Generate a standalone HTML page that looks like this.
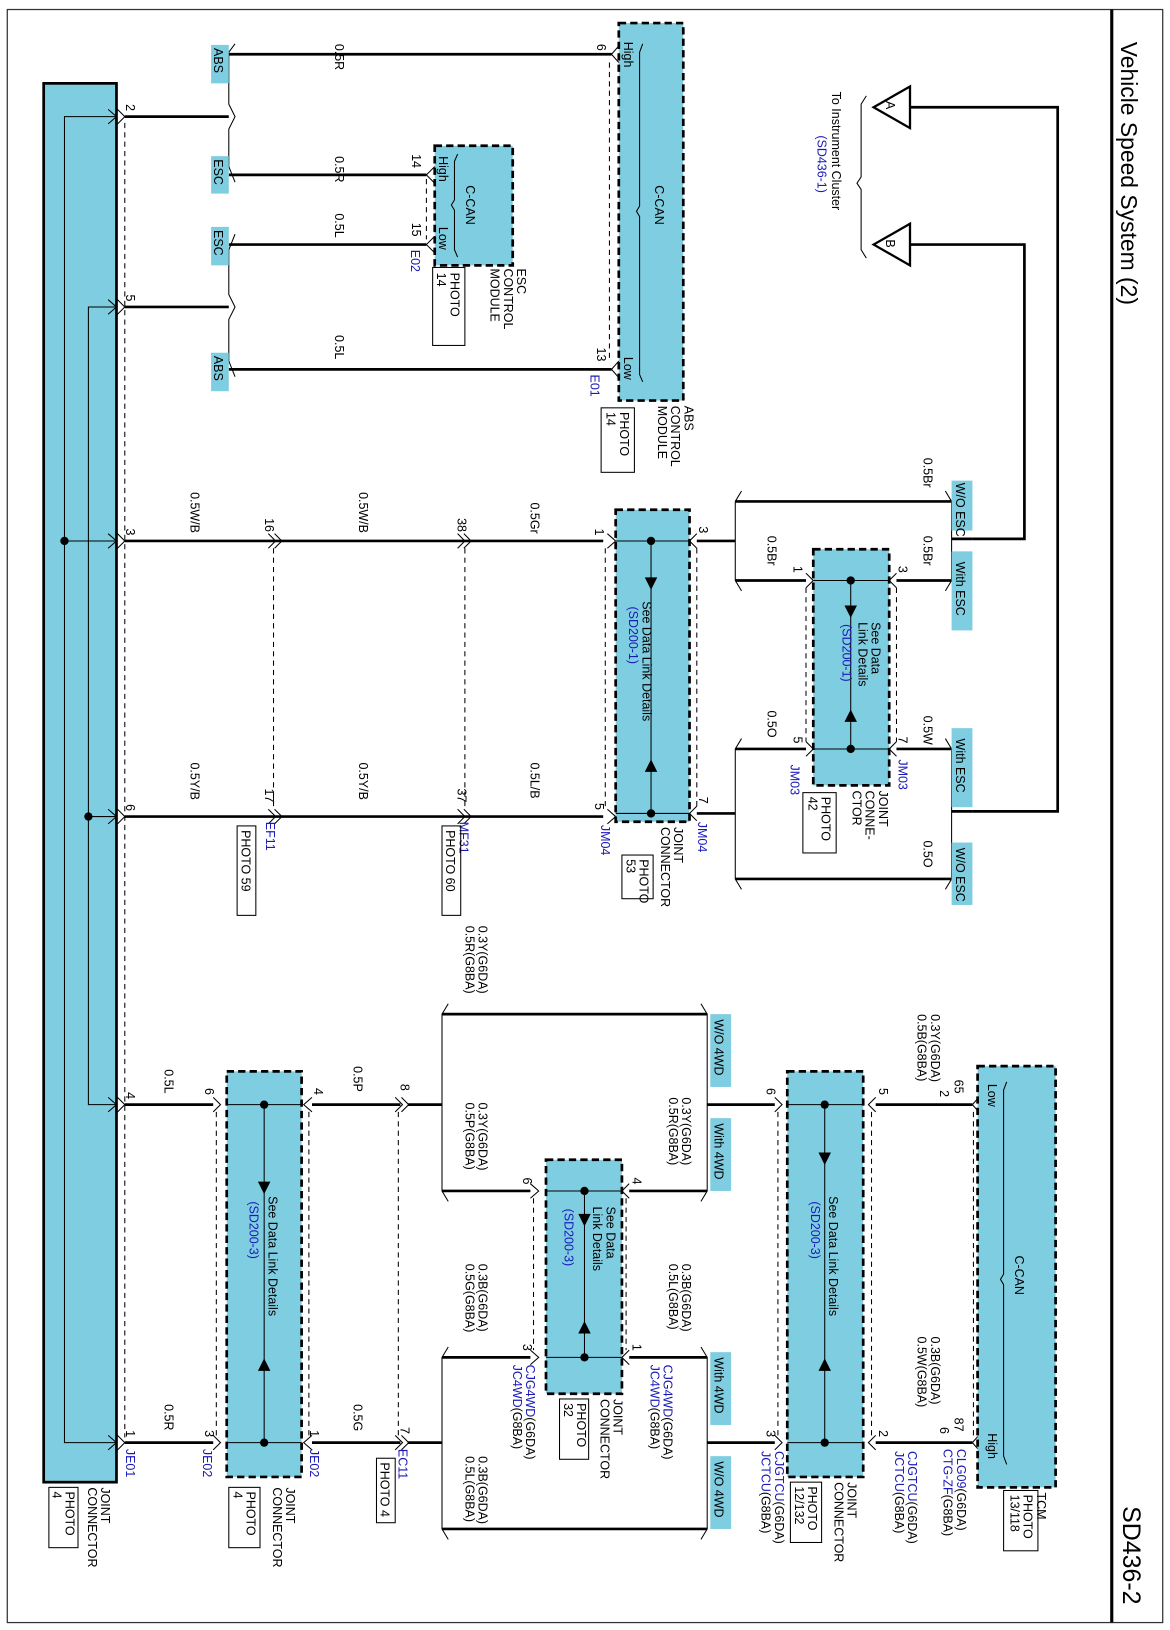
<!DOCTYPE html>
<html><head><meta charset="utf-8"><style>
html,body{margin:0;padding:0;background:#fff;}
svg{display:block;}
text{font-family:"Liberation Sans",sans-serif;font-size:12px;fill:#000;}
.b{fill:#1a1ab8;}
.w{stroke:#000;stroke-width:2.6;fill:none;}
.t{stroke:#000;stroke-width:1;fill:none;}
.d{stroke:#000;stroke-width:1;stroke-dasharray:5,4;fill:none;}
.box{fill:#7fcde0;stroke:#000;stroke-width:2.6;stroke-dasharray:7,4;}
.lb{fill:#7fcde0;}
</style></head><body>
<svg width="1170" height="1630" viewBox="0 0 1125 1567" xmlns="http://www.w3.org/2000/svg">
<rect x="7" y="9" width="1111" height="1551" fill="none" stroke="#333" stroke-width="1.2"/>
<line x1="1069" y1="9" x2="1069" y2="1560" stroke="#000" stroke-width="3"/>
<text transform="translate(1078,40) rotate(90)" style="font-size:22px">Vehicle Speed System (2)</text>
<text transform="translate(1080,1448) rotate(90)" style="font-size:24px">SD436-2</text>

<!-- Left connector -->
<rect x="42" y="80" width="70" height="1345" fill="#7fcde0" stroke="#000" stroke-width="2.6"/>
<polyline class="t" points="112,112 62,112 62,1387 112,1387"/>
<line class="t" x1="62" y1="520" x2="112" y2="520"/>
<polyline class="t" points="112,295 85,295 85,1062 112,1062"/>
<line class="t" x1="85" y1="785" x2="112" y2="785"/>
<circle cx="62" cy="520" r="4"/><circle cx="85" cy="785" r="4"/>
<g class="t">
<path d="M104,105 L112,112 L104,119 M112,104 L120,112 L112,120"/>
<path d="M104,288 L112,295 L104,302 M112,287 L120,295 L112,303"/>
<path d="M104,513 L112,520 L104,527 M112,512 L120,520 L112,528"/>
<path d="M104,778 L112,785 L104,792 M112,777 L120,785 L112,793"/>
<path d="M104,1055 L112,1062 L104,1069 M112,1054 L120,1062 L112,1070"/>
<path d="M104,1380 L112,1387 L104,1394 M112,1379 L120,1387 L112,1395"/>
</g>
<line class="d" x1="120" y1="118" x2="120" y2="1382"/>
<text transform="translate(121,100) rotate(90)">2</text>
<text transform="translate(121,283) rotate(90)">5</text>
<text transform="translate(121,508) rotate(90)">3</text>
<text transform="translate(121,773) rotate(90)">6</text>
<text transform="translate(121,1050) rotate(90)">4</text>
<text transform="translate(121,1375) rotate(90)">1</text>
<text class="b" transform="translate(121,1393) rotate(90)">JE01</text>
<text transform="translate(97,1430) rotate(90)"><tspan x="0">JOINT</tspan><tspan x="0" dy="1.05em">CONNECTOR</tspan></text>
<rect x="47" y="1430" width="28" height="58" fill="none" stroke="#000"/>
<text transform="translate(63,1434) rotate(90)"><tspan x="0">PHOTO</tspan><tspan x="0" dy="1.05em">4</tspan></text>

<!-- Top section wires -->
<g class="w">
<line x1="120" y1="112" x2="220" y2="112"/><line x1="120" y1="295" x2="220" y2="295"/>
<line x1="220" y1="52" x2="588" y2="52"/><line x1="220" y1="168" x2="410" y2="168"/>
<line x1="220" y1="235" x2="410" y2="235"/><line x1="220" y1="355" x2="588" y2="355"/>
</g>
<path class="t" d="M226,42 L220,50 L220,100 L226,112 L220,124 L220,160 L226,175 M226,225 L220,240 L220,283 L226,295 L220,307 L220,347 L226,362"/>
<rect class="lb" x="203" y="43" width="17" height="37"/><text transform="translate(206,46) rotate(90)">ABS</text>
<rect class="lb" x="203" y="150" width="17" height="36"/><text transform="translate(206,153) rotate(90)">ESC</text>
<rect class="lb" x="203" y="218" width="17" height="37"/><text transform="translate(206,221) rotate(90)">ESC</text>
<rect class="lb" x="203" y="339" width="17" height="37"/><text transform="translate(206,342) rotate(90)">ABS</text>
<text transform="translate(322,42) rotate(90)">0.5R</text>
<text transform="translate(322,150) rotate(90)">0.5R</text>
<text transform="translate(322,205) rotate(90)">0.5L</text>
<text transform="translate(322,322) rotate(90)">0.5L</text>

<!-- ESC module -->
<rect class="box" x="418" y="140" width="75" height="115"/>
<path class="t" d="M410,168 L418,160 M410,168 L418,176 M410,235 L418,227 M410,235 L418,243"/>
<line class="d" x1="410" y1="172" x2="410" y2="230"/>
<text transform="translate(396,148) rotate(90)">14</text>
<text transform="translate(396,214) rotate(90)">15</text>
<text class="b" transform="translate(395,240) rotate(90)">E02</text>
<text transform="translate(422,150) rotate(90)">High</text>
<text transform="translate(422,218) rotate(90)">Low</text>
<path class="t" d="M440,148 L437,155 L437,192 L434,197 L437,202 L437,240 L440,247"/>
<text transform="translate(448,178) rotate(90)">C-CAN</text>
<text transform="translate(497,258) rotate(90)"><tspan x="0">ESC</tspan><tspan x="0" dy="1.05em">CONTROL</tspan><tspan x="0" dy="1.05em">MODULE</tspan></text>
<rect x="416" y="257" width="31" height="75" fill="none" stroke="#000"/>
<text transform="translate(433,262) rotate(90)"><tspan x="0">PHOTO</tspan><tspan x="0" dy="1.05em">14</tspan></text>

<!-- ABS module -->
<rect class="box" x="595" y="22" width="62" height="363"/>
<path class="t" d="M588,52 L595,44 M588,52 L595,60 M588,355 L595,347 M588,355 L595,363"/>
<line class="d" x1="586" y1="60" x2="586" y2="348"/>
<text transform="translate(574,42) rotate(90)">6</text>
<text transform="translate(574,334) rotate(90)">13</text>
<text class="b" transform="translate(568,360) rotate(90)">E01</text>
<text transform="translate(600,40) rotate(90)">High</text>
<text transform="translate(600,343) rotate(90)">Low</text>
<path class="t" d="M618,42 L615,50 L615,198 L612,203 L615,208 L615,360 L618,367"/>
<text transform="translate(630,178) rotate(90)">C-CAN</text>
<text transform="translate(658,390) rotate(90)"><tspan x="0">ABS</tspan><tspan x="0" dy="1.05em">CONTROL</tspan><tspan x="0" dy="1.05em">MODULE</tspan></text>
<rect x="578" y="392" width="32" height="62" fill="none" stroke="#000"/>
<text transform="translate(596,396) rotate(90)"><tspan x="0">PHOTO</tspan><tspan x="0" dy="1.05em">14</tspan></text>

<!-- Triangles A/B -->
<path d="M840,103 L875,83 L875,123 Z" fill="#fff" stroke="#000" stroke-width="2.2"/>
<text transform="translate(852,97) rotate(90)">A</text>
<path d="M840,235 L875,215 L875,255 Z" fill="#fff" stroke="#000" stroke-width="2.2"/>
<text transform="translate(852,230) rotate(90)">B</text>
<path class="t" d="M833,92 L828,100 L828,170 L824,176 L828,182 L828,240 L833,248"/>
<text transform="translate(800,88) rotate(90)">To Instrument Cluster</text>
<text class="b" transform="translate(786,130) rotate(90)">(SD436-1)</text>
<polyline class="w" points="875,103 1017,103 1017,780 935,780"/>
<polyline class="w" points="875,235 985,235 985,518 935,518"/>

<!-- Mid section -->
<g class="w">
<line x1="120" y1="520" x2="580" y2="520"/><line x1="120" y1="785" x2="580" y2="785"/>
<line x1="670" y1="520" x2="707" y2="520"/><line x1="670" y1="782" x2="707" y2="782"/>
<line x1="707" y1="482" x2="915" y2="482"/><line x1="707" y1="558" x2="775" y2="558"/>
<line x1="862" y1="558" x2="915" y2="558"/>
<line x1="707" y1="720" x2="775" y2="720"/><line x1="862" y1="720" x2="915" y2="720"/>
<line x1="707" y1="845" x2="915" y2="845"/>
<line x1="915" y1="518" x2="935" y2="518"/><line x1="915" y1="780" x2="935" y2="780"/>
</g>
<path class="t" d="M713,472 L707,482 L707,558 L713,568 M713,710 L707,720 L707,845 L713,855 M909,472 L915,482 L915,558 L909,568 M909,710 L915,720 L915,845 L909,855"/>
<g class="t">
<path d="M258,513 L265,520 L258,527 M264,513 L271,520 L264,527"/>
<path d="M440,513 L447,520 L440,527 M446,513 L453,520 L446,527"/>
<path d="M258,778 L265,785 L258,792 M264,778 L271,785 L264,792"/>
<path d="M440,778 L447,785 L440,792 M446,778 L453,785 L446,792"/>
<path d="M584,513 L592,520 L584,527 M584,778 L592,785 L584,792"/>
<path d="M670,513 L663,520 L670,527 M670,775 L663,782 L670,789"/>
<path d="M775,551 L782,558 L775,565 M775,713 L782,720 L775,727"/>
<path d="M862,551 L855,558 L862,565 M862,713 L855,720 L862,727"/>
</g>
<g class="d">
<line x1="263" y1="527" x2="263" y2="778"/><line x1="447" y1="527" x2="447" y2="778"/>
<line x1="582" y1="527" x2="582" y2="778"/><line x1="670" y1="527" x2="670" y2="775"/>
<line x1="775" y1="565" x2="775" y2="713"/><line x1="862" y1="565" x2="862" y2="713"/>
</g>
<text transform="translate(255,498) rotate(90)">16</text>
<text transform="translate(440,498) rotate(90)">38</text>
<text transform="translate(572,508) rotate(90)">1</text>
<text transform="translate(672,506) rotate(90)">3</text>
<text transform="translate(255,758) rotate(90)">17</text>
<text transform="translate(440,758) rotate(90)">37</text>
<text transform="translate(572,772) rotate(90)">5</text>
<text transform="translate(672,766) rotate(90)">7</text>
<text transform="translate(183,473) rotate(90)">0.5W/B</text>
<text transform="translate(345,473) rotate(90)">0.5W/B</text>
<text transform="translate(510,483) rotate(90)">0.5Gr</text>
<text transform="translate(183,733) rotate(90)">0.5Y/B</text>
<text transform="translate(345,733) rotate(90)">0.5Y/B</text>
<text transform="translate(510,733) rotate(90)">0.5L/B</text>
<text class="b" transform="translate(256,790) rotate(90)">EF11</text>
<rect x="228" y="794" width="18" height="86" fill="none" stroke="#000"/>
<text transform="translate(232,798) rotate(90)">PHOTO 59</text>
<text class="b" transform="translate(442,790) rotate(90)">MF31</text>
<rect x="425" y="794" width="18" height="86" fill="none" stroke="#000"/>
<text transform="translate(429,798) rotate(90)">PHOTO 60</text>
<text class="b" transform="translate(578,793) rotate(90)">JM04</text>
<text class="b" transform="translate(671,790) rotate(90)">JM04</text>

<!-- JM04 box -->
<rect class="box" x="592" y="490" width="71" height="300"/>
<line class="t" x1="592" y1="520" x2="663" y2="520"/><line class="t" x1="592" y1="782" x2="663" y2="782"/>
<line class="t" x1="626" y1="520" x2="626" y2="782"/>
<circle cx="626" cy="520" r="4"/><circle cx="626" cy="782" r="4"/>
<path d="M620,555 L632,555 L626,567 Z M620,742 L632,742 L626,730 Z"/>
<text transform="translate(618,578) rotate(90)">See Data Link Details</text>
<text class="b" transform="translate(605,583) rotate(90)">(SD200-1)</text>
<text transform="translate(648,795) rotate(90)"><tspan x="0">JOINT</tspan><tspan x="0" dy="1.05em">CONNECTOR</tspan></text>
<rect x="598" y="822" width="30" height="42" fill="none" stroke="#000"/>
<text transform="translate(615,826) rotate(90)"><tspan x="0">PHOTO</tspan><tspan x="0" dy="1.05em">53</tspan></text>

<!-- JM03 box -->
<rect class="box" x="782" y="528" width="73" height="227"/>
<line class="t" x1="782" y1="558" x2="855" y2="558"/><line class="t" x1="782" y1="720" x2="855" y2="720"/>
<line class="t" x1="818" y1="558" x2="818" y2="720"/>
<circle cx="818" cy="558" r="4"/><circle cx="818" cy="720" r="4"/>
<path d="M812,582 L824,582 L818,594 Z M812,694 L824,694 L818,682 Z"/>
<text transform="translate(838,598) rotate(90)"><tspan x="0">See Data</tspan><tspan x="0" dy="1.05em">Link Details</tspan></text>
<text class="b" transform="translate(810,600) rotate(90)">(SD200-1)</text>
<text transform="translate(763,544) rotate(90)">1</text>
<text transform="translate(864,544) rotate(90)">3</text>
<text transform="translate(763,708) rotate(90)">5</text>
<text transform="translate(864,708) rotate(90)">7</text>
<text class="b" transform="translate(760,735) rotate(90)">JM03</text>
<text class="b" transform="translate(864,730) rotate(90)">JM03</text>
<text transform="translate(845,760) rotate(90)"><tspan x="0">JOINT</tspan><tspan x="0" dy="1.05em">CONNE-</tspan><tspan x="0" dy="1.05em">CTOR</tspan></text>
<rect x="772" y="762" width="32" height="58" fill="none" stroke="#000"/>
<text transform="translate(790,766) rotate(90)"><tspan x="0">PHOTO</tspan><tspan x="0" dy="1.05em">42</tspan></text>
<text transform="translate(888,440) rotate(90)">0.5Br</text>
<text transform="translate(888,515) rotate(90)">0.5Br</text>
<text transform="translate(738,515) rotate(90)">0.5Br</text>
<text transform="translate(738,683) rotate(90)">0.5O</text>
<text transform="translate(888,688) rotate(90)">0.5W</text>
<text transform="translate(888,808) rotate(90)">0.5O</text>
<rect class="lb" x="915" y="462" width="20" height="48"/><text transform="translate(919,464) rotate(90)">W/O ESC</text>
<rect class="lb" x="915" y="530" width="20" height="76"/><text transform="translate(919,540) rotate(90)">With ESC</text>
<rect class="lb" x="915" y="700" width="20" height="76"/><text transform="translate(919,710) rotate(90)">With ESC</text>
<rect class="lb" x="915" y="810" width="20" height="60"/><text transform="translate(919,815) rotate(90)">W/O ESC</text>

<!-- Bottom section wires -->
<g class="w">
<line x1="120" y1="1062" x2="205" y2="1062"/><line x1="120" y1="1387" x2="205" y2="1387"/>
<line x1="300" y1="1062" x2="385" y2="1062"/><line x1="300" y1="1387" x2="385" y2="1387"/>
<line x1="392" y1="1062" x2="425" y2="1062"/><line x1="392" y1="1387" x2="425" y2="1387"/>
<line x1="425" y1="975" x2="680" y2="975"/><line x1="425" y1="1145" x2="510" y2="1145"/>
<line x1="605" y1="1145" x2="680" y2="1145"/>
<line x1="425" y1="1305" x2="510" y2="1305"/><line x1="605" y1="1305" x2="680" y2="1305"/>
<line x1="425" y1="1470" x2="680" y2="1470"/>
<line x1="680" y1="1062" x2="745" y2="1062"/><line x1="680" y1="1387" x2="745" y2="1387"/>
<line x1="842" y1="1062" x2="935" y2="1062"/><line x1="842" y1="1387" x2="935" y2="1387"/>
</g>
<path class="t" d="M431,965 L425,975 L425,1145 L431,1155 M431,1295 L425,1305 L425,1470 L431,1480 M674,965 L680,975 L680,1145 L674,1155 M674,1295 L680,1305 L680,1470 L674,1480"/>
<g class="t">
<path d="M205,1055 L212,1062 L205,1069 M205,1380 L212,1387 L205,1394"/>
<path d="M300,1055 L292,1062 L300,1069 M300,1380 L292,1387 L300,1394"/>
<path d="M380,1055 L387,1062 L380,1069 M386,1055 L393,1062 L386,1069"/>
<path d="M380,1380 L387,1387 L380,1394 M386,1380 L393,1387 L386,1394"/>
<path d="M510,1138 L518,1145 L510,1152 M510,1298 L518,1305 L510,1312"/>
<path d="M605,1138 L598,1145 L605,1152 M605,1298 L598,1305 L605,1312"/>
<path d="M745,1055 L752,1062 L745,1069 M745,1380 L752,1387 L745,1394"/>
<path d="M842,1055 L835,1062 L842,1069 M842,1380 L835,1387 L842,1394"/>
<path d="M935,1062 L942,1054 M935,1062 L942,1070 M935,1387 L942,1379 M935,1387 L942,1395"/>
</g>
<g class="d">
<line x1="208" y1="1069" x2="208" y2="1380"/><line x1="297" y1="1069" x2="297" y2="1380"/>
<line x1="383" y1="1069" x2="383" y2="1380"/>
<line x1="513" y1="1152" x2="513" y2="1298"/><line x1="602" y1="1152" x2="602" y2="1298"/>
<line x1="748" y1="1069" x2="748" y2="1380"/><line x1="838" y1="1069" x2="838" y2="1380"/>
<line x1="936" y1="1069" x2="936" y2="1380"/>
</g>
<text transform="translate(158,1028) rotate(90)">0.5L</text>
<text transform="translate(158,1350) rotate(90)">0.5R</text>
<text transform="translate(340,1025) rotate(90)">0.5P</text>
<text transform="translate(340,1350) rotate(90)">0.5G</text>
<text transform="translate(197,1046) rotate(90)">6</text>
<text transform="translate(197,1375) rotate(90)">3</text>
<text class="b" transform="translate(195,1393) rotate(90)">JE02</text>
<text transform="translate(302,1046) rotate(90)">4</text>
<text transform="translate(298,1375) rotate(90)">1</text>
<text class="b" transform="translate(298,1393) rotate(90)">JE02</text>
<text transform="translate(385,1042) rotate(90)">8</text>
<text transform="translate(385,1372) rotate(90)">7</text>
<text class="b" transform="translate(383,1393) rotate(90)">EC11</text>
<rect x="362" y="1402" width="18" height="62" fill="none" stroke="#000"/>
<text transform="translate(366,1406) rotate(90)">PHOTO 4</text>

<!-- JE02 box -->
<rect class="box" x="218" y="1030" width="72" height="390"/>
<line class="t" x1="218" y1="1062" x2="290" y2="1062"/><line class="t" x1="218" y1="1387" x2="290" y2="1387"/>
<line class="t" x1="254" y1="1062" x2="254" y2="1387"/>
<circle cx="254" cy="1062" r="4"/><circle cx="254" cy="1387" r="4"/>
<path d="M248,1136 L260,1136 L254,1148 Z M248,1318 L260,1318 L254,1306 Z"/>
<text transform="translate(258,1150) rotate(90)">See Data Link Details</text>
<text class="b" transform="translate(240,1155) rotate(90)">(SD200-3)</text>
<text transform="translate(275,1430) rotate(90)"><tspan x="0">JOINT</tspan><tspan x="0" dy="1.05em">CONNECTOR</tspan></text>
<rect x="220" y="1430" width="30" height="58" fill="none" stroke="#000"/>
<text transform="translate(237,1434) rotate(90)"><tspan x="0">PHOTO</tspan><tspan x="0" dy="1.05em">4</tspan></text>

<!-- JC4WD box -->
<rect class="box" x="525" y="1115" width="73" height="225"/>
<line class="t" x1="525" y1="1145" x2="598" y2="1145"/><line class="t" x1="525" y1="1305" x2="598" y2="1305"/>
<line class="t" x1="562" y1="1145" x2="562" y2="1305"/>
<circle cx="562" cy="1145" r="4"/><circle cx="562" cy="1305" r="4"/>
<path d="M556,1167 L568,1167 L562,1179 Z M556,1282 L568,1282 L562,1270 Z"/>
<text transform="translate(583,1160) rotate(90)"><tspan x="0">See Data</tspan><tspan x="0" dy="1.05em">Link Details</tspan></text>
<text class="b" transform="translate(543,1162) rotate(90)">(SD200-3)</text>
<text transform="translate(503,1132) rotate(90)">6</text>
<text transform="translate(503,1292) rotate(90)">3</text>
<text transform="translate(608,1132) rotate(90)">4</text>
<text transform="translate(608,1292) rotate(90)">1</text>
<text transform="translate(590,1345) rotate(90)"><tspan x="0">JOINT</tspan><tspan x="0" dy="1.05em">CONNECTOR</tspan></text>
<rect x="538" y="1345" width="28" height="58" fill="none" stroke="#000"/>
<text transform="translate(555,1349) rotate(90)"><tspan x="0">PHOTO</tspan><tspan x="0" dy="1.05em">32</tspan></text>
<text transform="translate(506,1312) rotate(90)"><tspan class="b">CJG4WD</tspan>(G6DA)<tspan class="b" x="0" dy="1.05em">JC4WD</tspan>(G8BA)</text>
<text transform="translate(638,1312) rotate(90)"><tspan class="b">CJG4WD</tspan>(G6DA)<tspan class="b" x="0" dy="1.05em">JC4WD</tspan>(G8BA)</text>
<text transform="translate(460,890) rotate(90)"><tspan x="0">0.3Y(G6DA)</tspan><tspan x="0" dy="1.05em">0.5R(G8BA)</tspan></text>
<text transform="translate(460,1060) rotate(90)"><tspan x="0">0.3Y(G6DA)</tspan><tspan x="0" dy="1.05em">0.5P(G8BA)</tspan></text>
<text transform="translate(460,1215) rotate(90)"><tspan x="0">0.3B(G6DA)</tspan><tspan x="0" dy="1.05em">0.5G(G8BA)</tspan></text>
<text transform="translate(460,1400) rotate(90)"><tspan x="0">0.3B(G6DA)</tspan><tspan x="0" dy="1.05em">0.5L(G8BA)</tspan></text>
<text transform="translate(656,1055) rotate(90)"><tspan x="0">0.3Y(G6DA)</tspan><tspan x="0" dy="1.05em">0.5R(G8BA)</tspan></text>
<text transform="translate(656,1215) rotate(90)"><tspan x="0">0.3B(G6DA)</tspan><tspan x="0" dy="1.05em">0.5L(G8BA)</tspan></text>
<rect class="lb" x="683" y="975" width="20" height="70"/><text transform="translate(687,980) rotate(90)">W/O 4WD</text>
<rect class="lb" x="683" y="1075" width="20" height="70"/><text transform="translate(687,1080) rotate(90)">With 4WD</text>
<rect class="lb" x="683" y="1300" width="20" height="70"/><text transform="translate(687,1305) rotate(90)">With 4WD</text>
<rect class="lb" x="683" y="1400" width="20" height="70"/><text transform="translate(687,1405) rotate(90)">W/O 4WD</text>

<!-- CJGTCU box -->
<rect class="box" x="757" y="1030" width="73" height="390"/>
<line class="t" x1="757" y1="1062" x2="830" y2="1062"/><line class="t" x1="757" y1="1387" x2="830" y2="1387"/>
<line class="t" x1="793" y1="1062" x2="793" y2="1387"/>
<circle cx="793" cy="1062" r="4"/><circle cx="793" cy="1387" r="4"/>
<path d="M787,1108 L799,1108 L793,1120 Z M787,1318 L799,1318 L793,1306 Z"/>
<text transform="translate(797,1150) rotate(90)">See Data Link Details</text>
<text class="b" transform="translate(780,1155) rotate(90)">(SD200-3)</text>
<text transform="translate(737,1046) rotate(90)">6</text>
<text transform="translate(737,1375) rotate(90)">3</text>
<text transform="translate(845,1046) rotate(90)">5</text>
<text transform="translate(845,1375) rotate(90)">2</text>
<text transform="translate(745,1395) rotate(90)"><tspan class="b">CJGTCU</tspan>(G6DA)<tspan class="b" x="0" dy="1.05em">JCTCU</tspan>(G8BA)</text>
<text transform="translate(873,1395) rotate(90)"><tspan class="b">CJGTCU</tspan>(G6DA)<tspan class="b" x="0" dy="1.05em">JCTCU</tspan>(G8BA)</text>
<text transform="translate(815,1425) rotate(90)"><tspan x="0">JOINT</tspan><tspan x="0" dy="1.05em">CONNECTOR</tspan></text>
<rect x="760" y="1425" width="30" height="58" fill="none" stroke="#000"/>
<text transform="translate(777,1429) rotate(90)"><tspan x="0">PHOTO</tspan><tspan x="0" dy="1.05em">12/132</tspan></text>
<text transform="translate(895,975) rotate(90)"><tspan x="0">0.3Y(G6DA)</tspan><tspan x="0" dy="1.05em">0.5B(G8BA)</tspan></text>
<text transform="translate(895,1285) rotate(90)"><tspan x="0">0.3B(G6DA)</tspan><tspan x="0" dy="1.05em">0.5W(G8BA)</tspan></text>
<text transform="translate(918,1038) rotate(90)">65</text>
<text transform="translate(904,1048) rotate(90)">2</text>
<text transform="translate(918,1363) rotate(90)">87</text>
<text transform="translate(904,1372) rotate(90)">6</text>
<text transform="translate(920,1393) rotate(90)"><tspan class="b">CLG09</tspan>(G6DA)<tspan class="b" x="0" dy="1.05em">CTG-ZF</tspan>(G8BA)</text>

<!-- TCM -->
<rect class="box" x="940" y="1025" width="75" height="405"/>
<text transform="translate(950,1042) rotate(90)">Low</text>
<text transform="translate(950,1378) rotate(90)">High</text>
<path class="t" d="M968,1040 L965,1048 L965,1225 L962,1230 L965,1235 L965,1400 L968,1408"/>
<text transform="translate(976,1207) rotate(90)">C-CAN</text>
<text transform="translate(997,1435) rotate(90)">TCM</text>
<rect x="965" y="1433" width="33" height="58" fill="none" stroke="#000"/>
<text transform="translate(984,1437) rotate(90)"><tspan x="0">PHOTO</tspan><tspan x="0" dy="1.05em">13/118</tspan></text>
</svg>
</body></html>
